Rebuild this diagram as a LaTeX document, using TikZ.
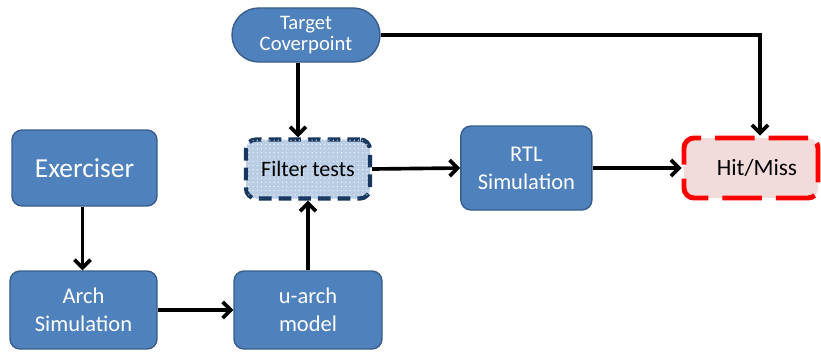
\documentclass[tikz,border=0pt]{standalone}
\usepackage{fontspec}
\setmainfont{Carlito}
\usetikzlibrary{arrows.meta, patterns}
\definecolor{boxblue}{HTML}{4F81BD}
\definecolor{boxedge}{HTML}{385D8A}
\definecolor{filtfill}{HTML}{B9CDE5}
\definecolor{filtedge}{HTML}{17375E}
\definecolor{hitfill}{HTML}{F2DCDB}
\definecolor{hitedge}{HTML}{FF0000}

\begin{document}
\begin{tikzpicture}[
    blk/.style={draw=boxedge, line width=1pt, fill=boxblue, rounded corners=0.25cm,
                text=white, align=center, inner sep=0pt,
                font=\fontsize{16}{20}\selectfont},
    flow/.style={line width=2.6pt, -{Straight Barb[length=2mm, width=4mm]}}
  ]
  \useasboundingbox (0,0) rectangle (20.525,-8.775);

  % --- top: target coverpoint ---
  \node[blk, minimum width=3.7cm, minimum height=1.35cm, rounded corners=0.67cm,
        font=\fontsize{14.7}{16.5}\selectfont] (target) at (7.65,-0.875) {\raisebox{-2pt}{Target}\\Coverpoint};

  % --- middle row ---
  \node[blk, minimum width=3.625cm, minimum height=1.9cm,
        font=\fontsize{19.5}{22}\selectfont] (exer) at (2.1125,-4.2) {Exerciser};
  \node[draw=filtedge, line width=3pt, dash pattern=on 9pt off 5pt, fill=filtfill,
        postaction={pattern=dots, pattern color=white!80!filtfill},
        rounded corners=0.25cm, minimum width=3.1cm, minimum height=1.475cm, inner sep=0pt,
        font=\fontsize{15.7}{19}\selectfont] (filter) at (7.7,-4.225) {Filter tests};
  \node[blk, minimum width=3.275cm, minimum height=2.1cm] (rtl) at (13.16,-4.2) {RTL\\Simulation};
  \node[draw=hitedge, line width=3.5pt, dash pattern=on 28pt off 10pt, fill=hitfill,
        rounded corners=0.25cm, minimum width=3.35cm, minimum height=1.5cm, inner sep=0pt,
        font=\fontsize{16.6}{20}\selectfont] (hit) at (18.775,-4.2) {\hspace{0.3cm}Hit/Miss};

  % --- bottom row ---
  \node[blk, minimum width=3.675cm, minimum height=1.95cm] (arch) at (2.0875,-7.75) {Arch\\Simulation};
  \node[blk, minimum width=3.7cm, minimum height=1.95cm] (uarch) at (7.7,-7.75) {u-arch\\model};

  % connectors
  \draw[flow] ([xshift=-0.2cm]target.south) -- ([xshift=-0.2cm]target.south |- filter.north);
  \draw[flow] (target.east) -| ([xshift=0.225cm]hit.north);
  \draw[flow] ([xshift=-0.05cm]exer.south) -- ([xshift=-0.05cm]exer.south |- arch.north);
  \draw[flow] (arch.east) -- (uarch.west);
  \draw[flow] (uarch.north) -- (uarch.north |- filter.south);
  \draw[flow] (filter.east) -- (rtl.west);
  \draw[flow] (rtl.east) -- (hit.west);
\end{tikzpicture}
\end{document}
